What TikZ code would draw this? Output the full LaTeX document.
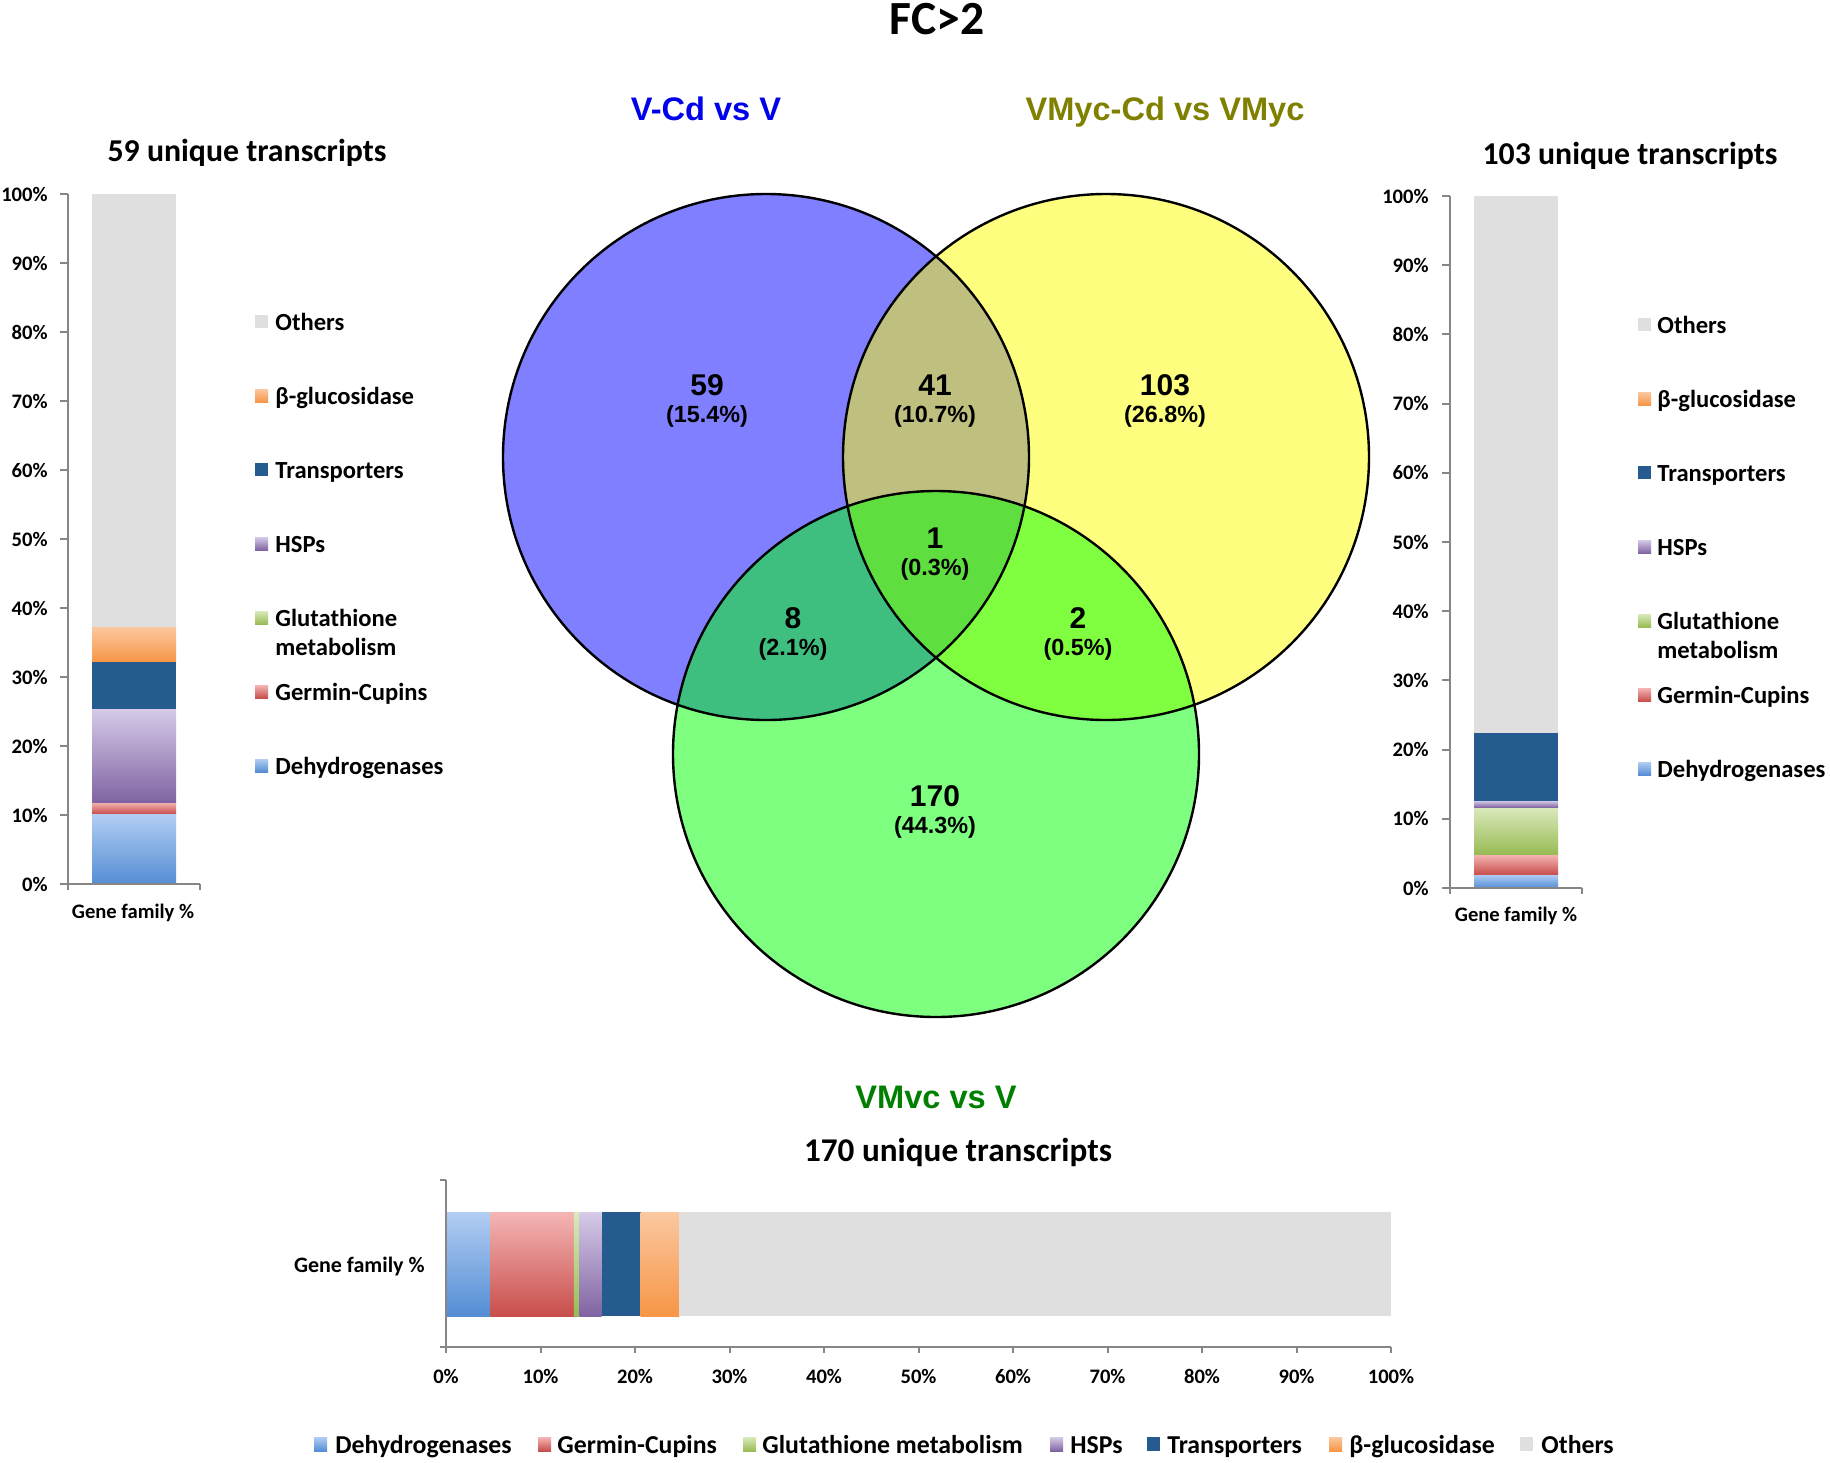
\documentclass[tikz,border=0pt]{standalone}
\usepackage{fontspec}
\setmainfont{Carlito}
\newfontfamily\arialf{Liberation Sans}
\definecolor{dhT}{RGB}{178,206,243}\definecolor{dhB}{RGB}{84,141,212}
\definecolor{gcT}{RGB}{244,182,181}\definecolor{gcB}{RGB}{200,78,75}
\definecolor{glT}{RGB}{218,234,188}\definecolor{glB}{RGB}{152,187,84}
\definecolor{hsT}{RGB}{214,203,232}\definecolor{hsB}{RGB}{128,100,162}
\definecolor{trC}{RGB}{37,91,143}
\definecolor{bgT}{RGB}{251,200,160}\definecolor{bgB}{RGB}{247,150,70}
\definecolor{otC}{RGB}{223,223,223}
\definecolor{axisC}{RGB}{134,134,134}
\definecolor{vblue}{RGB}{0,0,255}
\definecolor{vyel}{RGB}{255,255,0}
\definecolor{vgreen}{RGB}{0,255,0}
\definecolor{tblue}{RGB}{0,0,235}
\definecolor{tolive}{RGB}{128,128,0}
\definecolor{tgreen}{RGB}{0,128,0}
\tikzset{
  famdh/.style={top color=dhT,bottom color=dhB},
  famgc/.style={top color=gcT,bottom color=gcB},
  famgl/.style={top color=glT,bottom color=glB},
  famhs/.style={top color=hsT,bottom color=hsB},
  famtr/.style={fill=trC},
  fambg/.style={top color=bgT,bottom color=bgB},
  famot/.style={fill=otC},
  axisline/.style={draw=axisC,line width=1pt},
  titlef/.style={font=\bfseries\fontsize{23.8}{26}\selectfont,inner sep=0pt},
  venntitle/.style={font=\arialf\bfseries\fontsize{16.3}{18}\selectfont,inner sep=0pt},
  vnum/.style={font=\arialf\bfseries\fontsize{15}{17}\selectfont,inner sep=0pt},
  vpct/.style={font=\arialf\bfseries\fontsize{11.7}{13}\selectfont,inner sep=0pt},
  ctitle/.style={font=\bfseries\fontsize{15.9}{18}\selectfont,inner sep=0pt},
  tickf/.style={font=\bfseries\fontsize{10.3}{12}\selectfont,inner sep=0pt},
  legf/.style={font=\bfseries\fontsize{12.3}{14}\selectfont,inner sep=0pt},
  blegf/.style={font=\bfseries\fontsize{12.9}{15}\selectfont,inner sep=0pt},
}
\begin{document}
\begin{tikzpicture}[x=0.5pt,y=-0.5pt]
\useasboundingbox (0,0) rectangle (1830,1462);
\fill[white] (0,0) rectangle (1830,1462);

% ---------- titles ----------
\node[titlef,anchor=base] (title) at (937,34) {FC>2};
\node[venntitle,anchor=base,text=tblue] (tA) at (706,120) {V-Cd vs V};
\node[venntitle,anchor=base,text=tolive] (tB) at (1165,120) {VMyc-Cd vs VMyc};
\node[venntitle,anchor=base,text=tgreen] (tC) at (936,1108) {VMvc vs V};

% ---------- Venn ----------
\fill[vblue,fill opacity=0.5] (766,457) circle[radius=131.5pt];
\fill[vyel,fill opacity=0.5] (1106,457) circle[radius=131.5pt];
\fill[vgreen,fill opacity=0.5] (936,754) circle[radius=131.5pt];
\draw[black,line width=1.2pt] (766,457) circle[radius=131.5pt];
\draw[black,line width=1.2pt] (1106,457) circle[radius=131.5pt];
\draw[black,line width=1.2pt] (936,754) circle[radius=131.5pt];

\node[vnum,anchor=base] (n59) at (707,395) {59};
\node[vpct,anchor=base] (p59) at (707,422) {(15.4\%)};
\node[vnum,anchor=base] (n41) at (935,395) {41};
\node[vpct,anchor=base] (p41) at (935,422) {(10.7\%)};
\node[vnum,anchor=base] (n103) at (1165,395) {103};
\node[vpct,anchor=base] (p103) at (1165,422) {(26.8\%)};
\node[vnum,anchor=base] (n1) at (935,548) {1};
\node[vpct,anchor=base] (p1) at (935,575) {(0.3\%)};
\node[vnum,anchor=base] (n8) at (793,628) {8};
\node[vpct,anchor=base] (p8) at (793,655) {(2.1\%)};
\node[vnum,anchor=base] (n2) at (1078,628) {2};
\node[vpct,anchor=base] (p2) at (1078,655) {(0.5\%)};
\node[vnum,anchor=base] (n170) at (935,806) {170};
\node[vpct,anchor=base] (p170) at (935,833) {(44.3\%)};

% ---------- left chart ----------
\node[ctitle,anchor=base] (ltitle) at (247,161) {59 unique transcripts};
\path[famdh] (92,884) rectangle (176,{884-690/59*6});
\path[famgc] (92,{884-690/59*6}) rectangle (176,{884-690/59*7});
\path[famhs] (92,{884-690/59*7}) rectangle (176,{884-690/59*15});
\path[famtr] (92,{884-690/59*15}) rectangle (176,{884-690/59*19});
\path[fambg] (92,{884-690/59*19}) rectangle (176,{884-690/59*22});
\path[famot] (92,{884-690/59*22}) rectangle (176,194);
\draw[axisline] (68,194) -- (68,884) -- (200,884);
\draw[axisline] (68,884) -- (68,890);
\draw[axisline] (200,884) -- (200,890);
\foreach \p in {0,10,...,100} {
  \draw[axisline] (60,{884-6.9*\p}) -- (68,{884-6.9*\p});
  \node[tickf,anchor=east] (lt\p) at (48,{884-6.9*\p}) {\p\%};
}
\node[tickf,anchor=base] (lgf) at (133,918) {Gene family \%};
\foreach \st/\lab/\yy [count=\i] in {famot/Others/330, fambg/β-glucosidase/404, famtr/Transporters/478, famhs/HSPs/552, famgl/Glutathione/626, famgc/Germin-Cupins/700, famdh/Dehydrogenases/774} {
  \path[\st] (255,{\yy-15}) rectangle (268,{\yy-2});
  \node[legf,anchor=base west] (ll\i) at (275,\yy) {\lab};
}
\node[legf,anchor=base west] (llm) at (275,655) {metabolism};

% ---------- right chart ----------
\node[ctitle,anchor=base] (rtitle) at (1630,164) {103 unique transcripts};
\path[famdh] (1474,888) rectangle (1558,{888-692/103*2});
\path[famgc] (1474,{888-692/103*2}) rectangle (1558,{888-692/103*5});
\path[famgl] (1474,{888-692/103*5}) rectangle (1558,{888-692/103*12});
\path[famhs] (1474,{888-692/103*12}) rectangle (1558,{888-692/103*13});
\path[famtr] (1474,{888-692/103*13}) rectangle (1558,{888-692/103*23});
\path[famot] (1474,{888-692/103*23}) rectangle (1558,196);
\draw[axisline] (1450,196) -- (1450,888) -- (1582,888);
\draw[axisline] (1450,888) -- (1450,894);
\draw[axisline] (1582,888) -- (1582,894);
\foreach \p in {0,10,...,100} {
  \draw[axisline] (1442,{888-6.92*\p}) -- (1450,{888-6.92*\p});
  \node[tickf,anchor=east] (rt\p) at (1429,{888-6.92*\p}) {\p\%};
}
\node[tickf,anchor=base] (rgf) at (1516,921) {Gene family \%};
\foreach \st/\lab/\yy [count=\i] in {famot/Others/333, fambg/β-glucosidase/407, famtr/Transporters/481, famhs/HSPs/555, famgl/Glutathione/629, famgc/Germin-Cupins/703, famdh/Dehydrogenases/777} {
  \path[\st] (1638,{\yy-15}) rectangle (1651,{\yy-2});
  \node[legf,anchor=base west] (rl\i) at (1657,\yy) {\lab};
}
\node[legf,anchor=base west] (rlm) at (1657,658) {metabolism};

% ---------- bottom chart ----------
\node[ctitle,anchor=base,font=\bfseries\fontsize{16.6}{18}\selectfont] (btitle) at (958,1161) {170 unique transcripts};
\path[famdh] (446,1212) rectangle ({446+945/170*8},1316);
\path[famgc] ({446+945/170*8},1212) rectangle ({446+945/170*23},1316);
\path[famgl] ({446+945/170*23},1212) rectangle ({446+945/170*24},1316);
\path[famhs] ({446+945/170*24},1212) rectangle ({446+945/170*28},1316);
\path[famtr] ({446+945/170*28},1212) rectangle ({446+945/170*35},1316);
\path[fambg] ({446+945/170*35},1212) rectangle ({446+945/170*42},1316);
\path[famot] ({446+945/170*42},1212) rectangle (1391,1316);
\draw[axisline] (446,1180) -- (446,1347) -- (1391,1347);
\draw[axisline] (440,1180) -- (446,1180);
\draw[axisline] (440,1347) -- (446,1347);
\foreach \p in {0,10,...,100} {
  \draw[axisline] ({446+9.45*\p},1347) -- ({446+9.45*\p},1353);
  \node[tickf,anchor=base] (bt\p) at ({446+9.45*\p},1383) {\p\%};
}
\node[tickf,anchor=east,font=\bfseries\fontsize{11}{12}\selectfont] (bgf) at (425,1266) {Gene family \%};
\foreach \st/\lab/\xx/\tx [count=\i] in {famdh/Dehydrogenases/314/335, famgc/Germin-Cupins/538/557, famgl/Glutathione metabolism/743/762, famhs/HSPs/1050/1070, famtr/Transporters/1147/1167, fambg/β-glucosidase/1329/1349, famot/Others/1520/1541} {
  \path[\st] (\xx,1437) rectangle ({\xx+13},1451);
  \node[blegf,anchor=base west] (bl\i) at (\tx,1453) {\lab};
}
\end{tikzpicture}
\end{document}
